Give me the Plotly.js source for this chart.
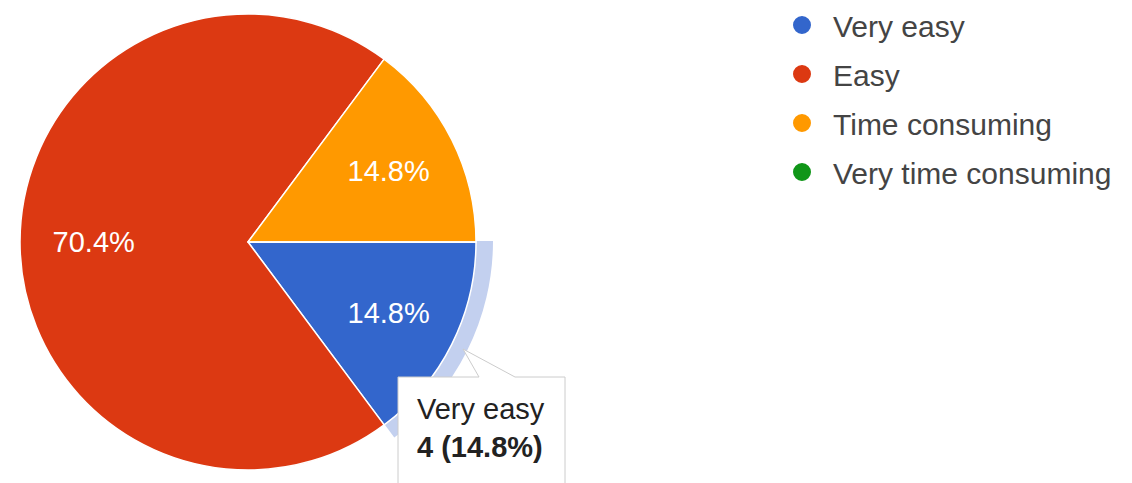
<!DOCTYPE html>
<html>
<head>
<meta charset="utf-8">
<script src="https://cdn.plot.ly/plotly-3.0.1.min.js"></script>
<style>
html,body{margin:0;padding:0;overflow:hidden;background:#fff;width:1132px;height:483px;}
#chart{position:absolute;left:0;top:-6px;width:1132px;height:495px;}
</style>
</head>
<body>
<div id="chart"></div>
<script>
// Data
const categories = ['Very easy', 'Easy', 'Time consuming', 'Very time consuming'];
const counts = [4, 19, 4, 0];
const colors = ['#3366cc', '#dc3912', '#ff9900', '#109618'];
const highlightIndex = 0;

const W = 1132, H = 495;
const total = counts.reduce((a, b) => a + b, 0);
const FONT = 'Arial, "Liberation Sans", sans-serif';

// highlight ring behind the hovered slice
const ringColors = categories.map((c, i) => i === highlightIndex ? '#c3d0ef' : 'rgba(0,0,0,0)');
const ring = {
  type: 'pie',
  labels: categories,
  values: counts,
  sort: false,
  direction: 'clockwise',
  rotation: 90,
  hole: 0.9,
  marker: {colors: ringColors, line: {width: 0}},
  textinfo: 'none',
  hoverinfo: 'skip',
  showlegend: false,
  domain: {x: [3 / W, 493 / W], y: [3 / H, 493 / H]}
};

// the big slice's label sits further out in the reference; pad it on the right
const templates = counts.map((v, i) => i === 1 ? '%{percent:.1%}' + '\u00a0'.repeat(10) : '%{percent:.1%}');

const pie = {
  type: 'pie',
  labels: categories,
  values: counts,
  sort: false,
  direction: 'clockwise',
  rotation: 90,
  marker: {colors: colors, line: {color: '#ffffff', width: 1.5}},
  textinfo: 'percent',
  texttemplate: templates,
  textposition: 'inside',
  insidetextorientation: 'horizontal',
  insidetextfont: {family: FONT, size: 29, color: '#ffffff'},
  hoverinfo: 'skip',
  showlegend: false,
  domain: {x: [20 / W, 476 / W], y: [19 / H, 475 / H]}
};

// legend entries (circle symbols)
const legendTraces = categories.map((c, i) => ({
  type: 'scatter',
  mode: 'markers',
  x: [null], y: [null],
  name: c,
  legendgroup: 'g' + i,
  marker: {symbol: 'circle', size: 16, color: colors[i], line: {color: colors[i], width: 2}},
  xaxis: 'x', yaxis: 'y',
  hoverinfo: 'skip'
}));

const pct = (counts[highlightIndex] / total * 100).toFixed(1);
const tipText = categories[highlightIndex] + '<br><b>' + counts[highlightIndex] + ' (' + pct + '%)</b>';

const px = v => v / W;
const py = v => 1 - (v + 6) / H; // page y -> paper y

const layout = {
  width: W, height: H,
  margin: {l: 0, r: 0, t: 0, b: 0},
  paper_bgcolor: '#ffffff',
  plot_bgcolor: 'rgba(0,0,0,0)',
  font: {family: FONT},
  xaxis: {visible: false, domain: [0.9, 1]},
  yaxis: {visible: false, domain: [0.9, 1]},
  showlegend: true,
  legend: {
    x: px(771), xanchor: 'left',
    y: py(-1), yanchor: 'top',
    font: {family: FONT, size: 30, color: '#444444'},
    itemwidth: 52,
    tracegroupgap: 7,
    bgcolor: 'rgba(0,0,0,0)',
    borderwidth: 0
  },
  shapes: [{
    type: 'path', xref: 'paper', yref: 'paper',
    path: 'M ' + px(398) + ' ' + py(377) + ' L ' + px(479) + ' ' + py(377) + ' L ' + px(463) + ' ' + py(349) +
          ' L ' + px(515) + ' ' + py(377) + ' L ' + px(565) + ' ' + py(377) + ' L ' + px(565) + ' ' + py(495) +
          ' L ' + px(398) + ' ' + py(495) + ' Z',
    fillcolor: '#ffffff',
    line: {color: '#cccccc', width: 1},
    layer: 'above'
  }],
  annotations: [{
    xref: 'paper', yref: 'paper',
    x: px(415), y: py(391), xanchor: 'left', yanchor: 'top',
    text: tipText, align: 'left', showarrow: false,
    font: {family: FONT, size: 29, color: '#222222'}
  }]
};

Plotly.newPlot('chart', [ring, pie].concat(legendTraces), layout, {displayModeBar: false, staticPlot: true});
</script>
</body>
</html>
